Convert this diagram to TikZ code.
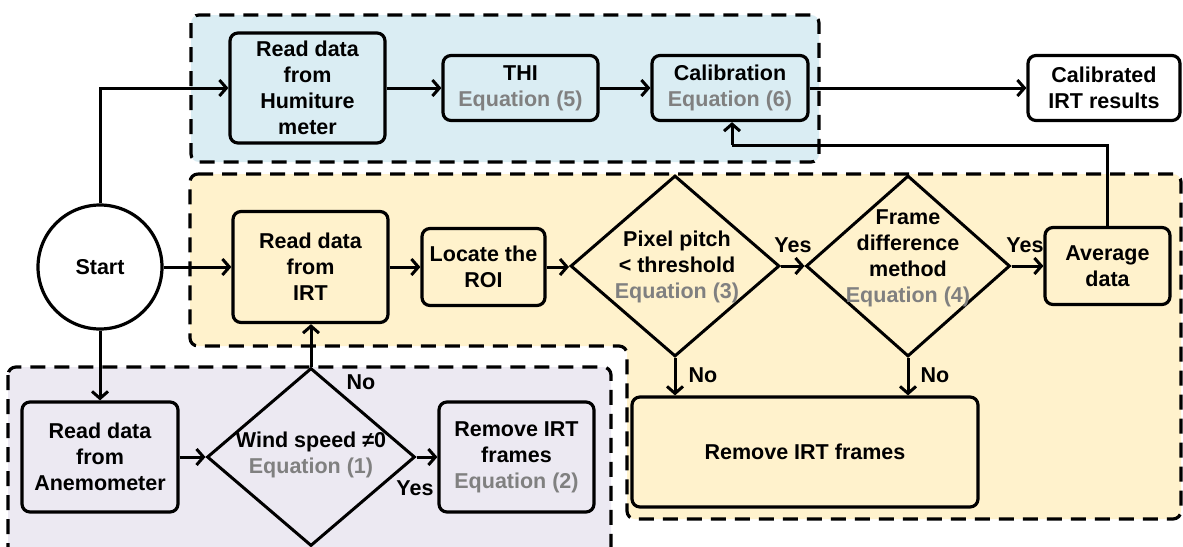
\documentclass[tikz,border=0pt]{standalone}
\usepackage{fontspec}
\setmainfont{Liberation Sans}
\usetikzlibrary{shapes.geometric,arrows.meta,calc}

\definecolor{regblue}{RGB}{218,237,243}
\definecolor{regyellow}{RGB}{255,242,204}
\definecolor{regpurple}{RGB}{236,233,242}
\definecolor{eqgray}{RGB}{128,128,128}

\newcommand{\eqn}[1]{\textcolor{eqgray}{#1}}

\tikzset{
  region/.style={draw=black, line width=3.2pt, dash pattern=on 15pt off 9pt,
                 rounded corners=8pt},
  procbox/.style={draw=black, line width=3.2pt, rounded corners=8pt,
                  inner sep=0pt, align=center},
  decision/.style={diamond, draw=black, line width=3pt, inner sep=0pt},
  txt/.style={align=center, font=\fontsize{21.5}{26}\selectfont\bfseries},
  lbl/.style={font=\fontsize{21.5}{26}\selectfont\bfseries},
  arr/.style={line width=3pt, -{Straight Barb[length=7pt,width=16pt]}},
  link/.style={line width=3pt}
}

\begin{document}
\begin{tikzpicture}[x=1pt,y=-1pt]
\clip (0,0) rectangle (1183,546);
\fill[white] (0,0) rectangle (1183,546);

% background regions
\draw[region, fill=regblue] (191,15) rectangle (819,162);
\draw[region, fill=regyellow] (190,174) -- (1181,174) -- (1181,519)
      -- (627,519) -- (627,346) -- (190,346) -- cycle;
\draw[region, fill=regpurple] (8,367) rectangle (611,560);

% start
\node[draw=black, line width=3.2pt, circle, minimum size=124pt, inner sep=0pt,
      txt] (start) at (100,267) {Start};

% humiture branch
\node[procbox, fill=regblue, minimum width=155pt, minimum height=110pt, txt]
  (hum) at (307.5,88) {Read data\\from\\Humiture\\meter};
\node[procbox, fill=regblue, minimum width=155pt, minimum height=65pt, txt]
  (thi) at (520.5,88) {THI\\\eqn{Equation (5)}};
\node[procbox, fill=regblue, minimum width=156pt, minimum height=65pt, txt]
  (cal) at (730,88) {Calibration\\\eqn{Equation (6)}};
\node[procbox, fill=white, minimum width=152pt, minimum height=65pt, txt]
  (res) at (1104,88) {Calibrated\\IRT results};

% IRT branch
\node[procbox, fill=regyellow, minimum width=155pt, minimum height=111pt, txt]
  (irt) at (310.5,267) {Read data\\from\\IRT};
\node[procbox, fill=regyellow, minimum width=123pt, minimum height=77pt, txt]
  (roi) at (483.5,267) {Locate the\\ROI};
\node[decision, fill=regyellow, minimum width=209pt, minimum height=181pt]
  (pix) at (675,266) {};
\node[txt] (pixt) at (677,267) {Pixel pitch\\< threshold\\\eqn{Equation (3)}};
\node[decision, fill=regyellow, minimum width=204pt, minimum height=181pt]
  (fdm) at (908,266) {};
\node[txt] (fdmt) at (908,258) {Frame\\difference\\method\\\eqn{Equation (4)}};
\node[procbox, fill=regyellow, minimum width=125pt, minimum height=77pt, txt]
  (avg) at (1107.5,266) {Average\\data};
\node[procbox, fill=regyellow, minimum width=346pt, minimum height=110pt, txt]
  (rem) at (805,452) {Remove IRT frames};

% anemometer branch
\node[procbox, fill=regpurple, minimum width=156pt, minimum height=110pt, txt]
  (ane) at (100,457) {Read data\\from\\Anemometer};
\node[decision, fill=regpurple, minimum width=208pt, minimum height=178pt]
  (wind) at (311,457) {};
\node[txt] (windt) at (311,455) {Wind speed ≠0\\\eqn{Equation (1)}};
\node[procbox, fill=regpurple, minimum width=155pt, minimum height=110pt, txt]
  (rem2) at (516.5,457) {Remove IRT\\frames\\\eqn{Equation (2)}};

% connectors
\draw[arr] (start.north) |- (hum.west);
\draw[arr] (start.east) -- (start.east -| irt.west);
\draw[arr] (start.south) -- (start.south |- ane.north);
\draw[arr] (hum.east) -- (hum.east -| thi.west);
\draw[arr] (thi.east) -- (thi.east -| cal.west);
\draw[arr] (cal.east) -- (cal.east -| res.west);
\coordinate (fb) at ($(cal.south)+(2,23)$);
\draw[link] (avg.north) |- (fb);
\draw[arr] (fb) -- (fb |- cal.south);
\draw[arr] (irt.east) -- (irt.east -| roi.west);
\draw[arr] (roi.east) -- (roi.east -| pix.west);
\draw[arr] (pix.east) -- (fdm.west);
\draw[arr] (fdm.east) -- (fdm.east -| avg.west);
\draw[arr] (pix.south) -- (pix.south |- rem.north);
\draw[arr] (fdm.south) -- (fdm.south |- rem.north);
\draw[arr] (ane.east) -- (wind.west);
\draw[arr] (wind.east) -- (wind.east -| rem2.west);
\draw[arr] (wind.north) -- (wind.north |- irt.south);

% branch labels
\node[lbl] (y1) at (793,245) {Yes};
\node[lbl] (y2) at (1025,245) {Yes};
\node[lbl] (n1) at (703,375) {No};
\node[lbl] (n2) at (935,375) {No};
\node[lbl] (n3) at (361,382) {No};
\node[lbl] (y3) at (415,488) {Yes};
\end{tikzpicture}
\end{document}
